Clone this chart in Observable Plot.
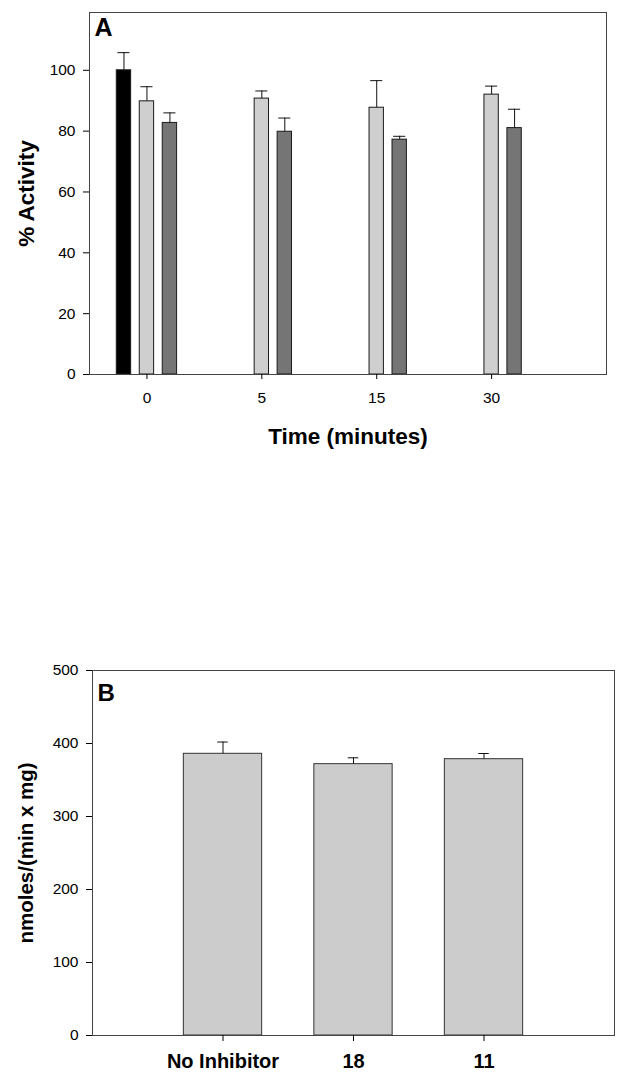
<!DOCTYPE html>
<html><head><meta charset="utf-8">
<script src="https://cdn.jsdelivr.net/npm/d3@7"></script>
<script src="https://cdn.jsdelivr.net/npm/@observablehq/plot@0.6"></script>
<style>
body{margin:0;background:#fff}
svg{display:block}
g[aria-label$="tick label"], g[aria-label$="tick label"] text{font-size:15.5px !important}
#panelB g[aria-label="x-axis tick label"], #panelB g[aria-label="x-axis tick label"] text{font-size:20px !important;font-weight:bold}
</style>
</head><body><div id="chart"></div>
<script>
// ---- Panel A data: % Activity vs time ----
const timeLabels = ["0", "5", "15", "30"];
const controlMean = [100, null, null, null];
const controlErr  = [5.8, null, null, null];
const lightMean   = [89.8, 90.7, 87.7, 92.0];
const lightErr    = [4.8, 2.5, 8.9, 2.8];
const darkMean    = [82.7, 79.8, 77.2, 81.0];
const darkErr     = [3.3, 4.5, 1.1, 6.2];
const activityTicks = [0, 20, 40, 60, 80, 100];

// ---- Panel B data: rate per inhibitor ----
const inhibitorLabels = ["No Inhibitor", "18", "11"];
const rateMean = [385.9, 371.7, 378.5];
const rateErr  = [16.1, 8.7, 7.8];
const rateTicks = [0, 100, 200, 300, 400, 500];

const FONT = "'Liberation Sans', Arial, Helvetica, sans-serif";

const seriesA = [
  {mean: controlMean, err: controlErr, fill: "#000000", offset: -0.2},
  {mean: lightMean,   err: lightErr,   fill: "#cfcfcf", offset: 0},
  {mean: darkMean,    err: darkErr,    fill: "#757575", offset: 0.2}
];
const rowsA = seriesA.flatMap(s => timeLabels.map((t, i) => ({
  c: i + s.offset, value: s.mean[i], err: s.err[i], fill: s.fill
}))).filter(d => d.value != null);

const bwA = 0.125, capA = 0.105;

const chartA = Plot.plot({
  width: 629, height: 460,
  marginTop: 12, marginBottom: 86, marginLeft: 89, marginRight: 23,
  style: {fontFamily: FONT, fontSize: "15.5px", color: "#000", background: "#fff"},
  x: {type: "linear", domain: [-0.5, 4]},
  y: {domain: [0, 119]},
  color: {type: "identity"},
  marks: [
    Plot.rect(rowsA, {x1: d => d.c - bwA / 2, x2: d => d.c + bwA / 2, y1: 0, y2: "value",
      fill: "fill", stroke: "#1a1a1a", strokeWidth: 1}),
    Plot.ruleX(rowsA, {x: "c", y1: "value", y2: d => d.value + d.err, stroke: "#111", strokeWidth: 1}),
    Plot.ruleY(rowsA, {y: d => d.value + d.err, x1: d => d.c - capA / 2, x2: d => d.c + capA / 2, stroke: "#111", strokeWidth: 1}),
    Plot.frame({stroke: "#444"}),
    Plot.axisY({ticks: activityTicks, tickSize: 6, tickPadding: 8, fontSize: 15.5, label: null}),
    Plot.axisX({ticks: [0, 1, 2, 3], tickFormat: i => timeLabels[i], tickSize: 5, tickPadding: 12, fontSize: 15.5, label: null}),
    Plot.text(["% Activity"], {frameAnchor: "left", dx: -63, rotate: -90, textAnchor: "middle", lineAnchor: "middle",
      fontSize: 22.5, fontWeight: "bold"}),
    Plot.text(["Time (minutes)"], {frameAnchor: "bottom", dy: 62, textAnchor: "middle", lineAnchor: "middle",
      fontSize: 22.5, fontWeight: "bold"}),
    Plot.text(["A"], {frameAnchor: "top-left", dx: 5, dy: 6, textAnchor: "start", lineAnchor: "top",
      fontSize: 25, fontWeight: "bold"})
  ]
});

const rowsB = inhibitorLabels.map((t, i) => ({c: i, value: rateMean[i], err: rateErr[i]}));
const bwB = 0.6, capB = 0.08;

const chartB = Plot.plot({
  width: 629, height: 620,
  marginTop: 210, marginBottom: 45, marginLeft: 92, marginRight: 15,
  style: {fontFamily: FONT, fontSize: "15.5px", color: "#000", background: "#fff"},
  x: {type: "linear", domain: [-1, 3]},
  y: {domain: [0, 500]},
  marks: [
    Plot.rect(rowsB, {x1: d => d.c - bwB / 2, x2: d => d.c + bwB / 2, y1: 0, y2: "value",
      fill: "#cccccc", stroke: "#333", strokeWidth: 1}),
    Plot.ruleX(rowsB, {x: "c", y1: "value", y2: d => d.value + d.err, stroke: "#111", strokeWidth: 1}),
    Plot.ruleY(rowsB, {y: d => d.value + d.err, x1: d => d.c - capB / 2, x2: d => d.c + capB / 2, stroke: "#111", strokeWidth: 1}),
    Plot.frame({stroke: "#444"}),
    Plot.axisY({ticks: rateTicks, tickSize: 6, tickPadding: 8, fontSize: 15.5, label: null}),
    Plot.axisX({ticks: [0, 1, 2], tickFormat: i => inhibitorLabels[i], tickSize: 6, tickPadding: 12,
      fontSize: 20, fontWeight: "bold", label: null}),
    Plot.text(["nmoles/(min x mg)"], {frameAnchor: "left", dx: -66, rotate: -90, textAnchor: "middle", lineAnchor: "middle",
      fontSize: 20.5, fontWeight: "bold"}),
    Plot.text(["B"], {frameAnchor: "top-left", dx: 5, dy: 13, textAnchor: "start", lineAnchor: "top",
      fontSize: 24, fontWeight: "bold"})
  ]
});
chartB.id = "panelB";

const root = document.getElementById("chart");
root.appendChild(chartA);
root.appendChild(chartB);
</script>
</body></html>
